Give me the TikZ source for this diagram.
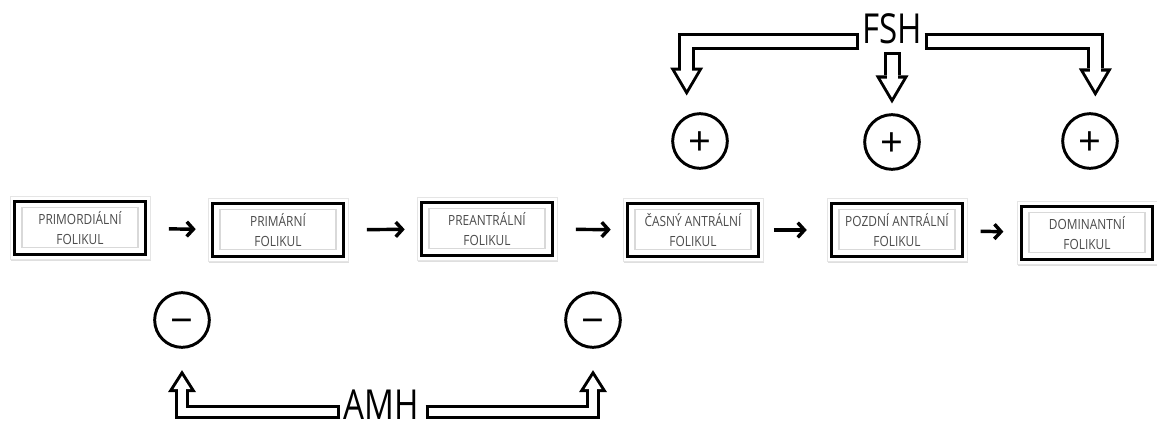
\documentclass[tikz,border=0pt]{standalone}
\usepackage{fontspec}
\setmainfont{Open Sans}
\newfontfamily\boxfont[FakeStretch=0.85]{Open Sans}
\newfontfamily\hormfont[FakeStretch=0.8]{Open Sans}
\usetikzlibrary{arrows.meta,shadows}

\tikzset{
  folbox/.style={rectangle, draw=gray!20, line width=0.4pt, fill=white,
    minimum width=105pt, minimum height=47pt, inner sep=0pt, align=center,
    text=black!70, font=\boxfont\fontsize{10.5}{15}\selectfont,
    drop shadow={opacity=0.25, shadow xshift=0.6pt, shadow yshift=-1.5pt},
    path picture={
      \draw[black, line width=2pt]
        ([shift={(3.4pt,-3.4pt)}]path picture bounding box.north west) rectangle
        ([shift={(-3.4pt,3.4pt)}]path picture bounding box.south east);
      \draw[gray!30, line width=1.2pt]
        ([shift={(9pt,-8pt)}]path picture bounding box.north west) rectangle
        ([shift={(-9pt,9pt)}]path picture bounding box.south east);
    }},
  next/.style={line width=2.6pt, -{Straight Barb[length=5pt,width=11pt]},
    shorten <=14pt, shorten >=9pt},
  sign/.style={circle, draw, line width=2.2pt, minimum size=41pt, inner sep=0pt,
    fill=white, font=\fontsize{30}{30}\selectfont, text height=21pt, text depth=0pt},
  horm/.style={font=\hormfont\fontsize{31}{31}\selectfont, inner xsep=2pt, inner ysep=0pt, anchor=base},
  % hollow arrows: black outline first, white core on top
  fshout/.style={black, line width=12.75pt, -{Triangle[length=21pt,width=24.75pt,line width=0pt]}},
  fshin/.style={white, line width=8.25pt, -{Triangle[length=14.3pt,width=16.9pt,line width=0pt]}},
  amhout/.style={black, line width=10.5pt, -{Triangle[length=16.5pt,width=21pt,line width=0pt]}},
  amhin/.style={white, line width=6pt, -{Triangle[length=10.1pt,width=12.8pt,line width=0pt]}},
}

\begin{document}
\begin{tikzpicture}[x=0.75pt, y=-0.75pt]
    \path[fill=white, use as bounding box] (0,0) rectangle (1157,425);

    % follicle stages
    \node[folbox] at (80,228) (b1) {PRIMORDIÁLNÍ\\FOLIKUL};
    \node[folbox] at (278,230) (b2) {PRIMÁRNÍ\\FOLIKUL};
    \node[folbox] at (487,229) (b3) {PREANTRÁLNÍ\\FOLIKUL};
    \node[folbox] at (693,230) (b4) {ČASNÝ ANTRÁLNÍ\\FOLIKUL};
    \node[folbox] at (897,230) (b5) {POZDNÍ ANTRÁLNÍ\\FOLIKUL};
    \node[folbox] at (1087,233) (b6) {DOMINANTNÍ\\FOLIKUL};

    \draw[next] (b1) -- (b2);
    \draw[next] (b2) -- (b3);
    \draw[next] (b3) -- (b4);
    \draw[next, shorten <=8pt, shorten >=15pt] (b4) -- (b5);
    \draw[next, shorten <=10pt, shorten >=10pt] (b5) -- (b6);

    % signs
    \node[sign] at (700,141) (p1) {+};
    \node[sign] at (892,142) (p2) {+};
    \node[sign] at (1090,141) (p3) {+};
    \node[sign] at (182,320) (m1) {−};
    \node[sign] at (593,320) (m2) {−};

    % hormones
    \node[horm] at (892,43) (fsh) {FSH};
    \node[horm] at (381,419) (amh) {AMH};

    \draw[fshout, shorten >=12.5pt] ([yshift=1pt]fsh.base west) -| ([xshift=-10pt]p1.north);
    \draw[fshin, shorten <=2.25pt, shorten >=16.9pt] ([yshift=1pt]fsh.base west) -| ([xshift=-10pt]p1.north);
    \draw[fshout, shorten <=6.5pt, shorten >=7.3pt] (fsh.south) -- (p2.north);
    \draw[fshin, shorten <=8.75pt, shorten >=11.7pt] (fsh.south) -- (p2.north);
    \draw[fshout, shorten >=11.8pt] ([yshift=1pt]fsh.base east) -| ([xshift=4pt]p3.north);
    \draw[fshin, shorten <=2.25pt, shorten >=16.2pt] ([yshift=1pt]fsh.base east) -| ([xshift=4pt]p3.north);

    \draw[amhout, shorten >=16pt] ([yshift=5.25pt]amh.base west) -| (m1.south);
    \draw[amhin, shorten <=2.25pt, shorten >=20.2pt] ([yshift=5.25pt]amh.base west) -| (m1.south);
    \draw[amhout, shorten <=3pt, shorten >=16pt] ([yshift=5.25pt]amh.base east) -| (m2.south);
    \draw[amhin, shorten <=5.25pt, shorten >=20.2pt] ([yshift=5.25pt]amh.base east) -| (m2.south);
\end{tikzpicture}
\end{document}
